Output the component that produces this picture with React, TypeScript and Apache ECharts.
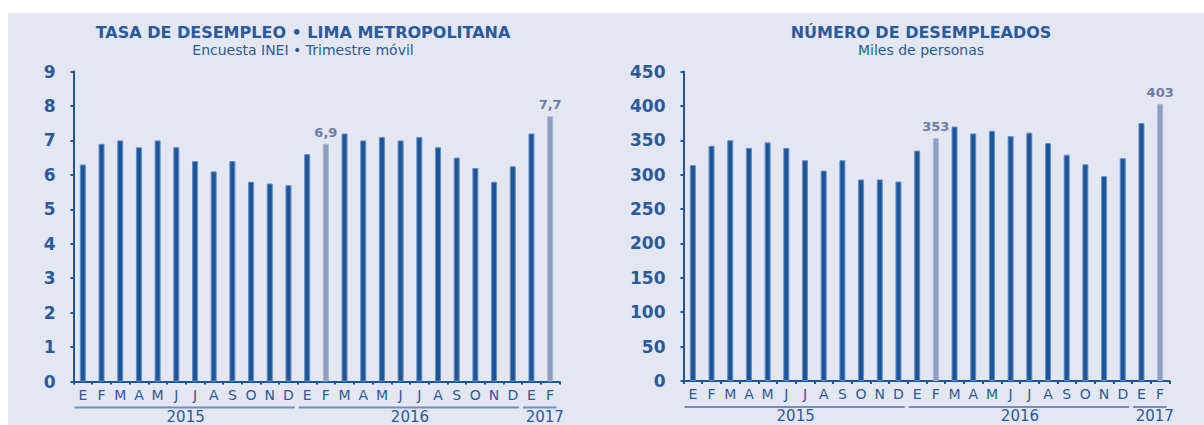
import React, { useEffect, useRef } from "react";
import * as echarts from "echarts";

const months = ["E","F","M","A","M","J","J","A","S","O","N","D","E","F","M","A","M","J","J","A","S","O","N","D","E","F"];
const years = [
  { label: "2015", start: 0, end: 11 },
  { label: "2016", start: 12, end: 23 },
  { label: "2017", start: 24, end: 25 },
];
const rate = [6.3, 6.9, 7.0, 6.8, 7.0, 6.8, 6.4, 6.1, 6.4, 5.8, 5.75, 5.7, 6.6, 6.9, 7.2, 7.0, 7.1, 7.0, 7.1, 6.8, 6.5, 6.2, 5.8, 6.25, 7.2, 7.7];
const unemployed = [314, 342, 350, 339, 347, 339, 321, 306, 321, 293, 293, 290, 335, 353, 370, 360, 364, 356, 361, 346, 329, 315, 298, 324, 375, 403];
const highlighted = [13, 25];
const rateTicks = { min: 0, max: 9, interval: 1 };
const unemployedTicks = { min: 0, max: 450, interval: 50 };
const titles = [
  { title: "TASA DE DESEMPLEO • LIMA METROPOLITANA", sub: "Encuesta INEI • Trimestre móvil" },
  { title: "NÚMERO DE DESEMPLEADOS", sub: "Miles de personas" },
];

const FONT = "DejaVu Sans";
const BLUE = "#2B5A9B";
const DARK = "#1F5597";
const LIGHT = "#8C9DC4";
const BG = "#E4E6F1";

function seriesData(vals: number[]) {
  return vals.map((v, i) =>
    highlighted.includes(i)
      ? { value: v, itemStyle: { color: LIGHT, borderColor: "#A9B8D6" }, label: { show: true } }
      : v
  );
}

export default function App() {
  const ref = useRef<HTMLDivElement>(null);
  useEffect(() => {
    if (!ref.current) return;
    const chart = echarts.init(ref.current, undefined, { renderer: "svg" });
    const grids = [
      { left: 73.5, top: 71.5, width: 486, height: 310 },
      { left: 683.5, top: 71.5, width: 486, height: 309.5 },
    ];
    const ticks = [rateTicks, unemployedTicks];
    const option: any = {
      animation: false,
      backgroundColor: BG,
      grid: grids,
      xAxis: grids.map((_, k) => ({
        type: "category",
        gridIndex: k,
        data: months,
        axisLine: { lineStyle: { color: DARK, width: 2 } },
        axisTick: { show: true, length: 3, lineStyle: { color: DARK, width: 2 } },
        axisLabel: { interval: 0, color: BLUE, fontFamily: FONT, fontSize: 14, margin: 6 },
        splitLine: { show: false },
      })),
      yAxis: grids.map((_, k) => ({
        type: "value",
        gridIndex: k,
        min: ticks[k].min,
        max: ticks[k].max,
        interval: ticks[k].interval,
        axisLine: { show: true, lineStyle: { color: DARK, width: 2 } },
        axisTick: { show: true, length: 3, lineStyle: { color: DARK, width: 2 } },
        axisLabel: { color: BLUE, fontFamily: FONT, fontSize: 17, fontWeight: "bold", margin: 18 },
        splitLine: { show: false },
      })),
      series: [
        {
          type: "bar",
          xAxisIndex: 0,
          yAxisIndex: 0,
          data: seriesData(rate),
          barWidth: 6,
          itemStyle: { color: DARK, borderColor: "#5F90CC", borderWidth: 1 },
          label: {
            show: false,
            position: "top",
            distance: 5,
            color: "#6C7DA3",
            fontFamily: FONT,
            fontSize: 13,
            fontWeight: "bold",
            formatter: (p: any) => Number(p.value).toFixed(1).replace(".", ","),
          },
        },
        {
          type: "bar",
          xAxisIndex: 1,
          yAxisIndex: 1,
          data: seriesData(unemployed),
          barWidth: 6,
          itemStyle: { color: DARK, borderColor: "#5F90CC", borderWidth: 1 },
          label: {
            show: false,
            position: "top",
            distance: 5,
            color: "#6C7DA3",
            fontFamily: FONT,
            fontSize: 13,
            fontWeight: "bold",
            formatter: (p: any) => String(p.value),
          },
        },
      ],
    };
    chart.setOption(option);

    const graphic: any[] = [
      { type: "rect", shape: { x: 0, y: 0, width: 1204, height: 13 }, style: { fill: "#ffffff" }, silent: true },
      { type: "rect", shape: { x: 0, y: 0, width: 8, height: 425 }, style: { fill: "#ffffff" }, silent: true },
    ];
    const titleX = [303, 921];
    titles.forEach((t, k) => {
      graphic.push({
        type: "text",
        x: titleX[k],
        y: 32,
        style: { text: t.title, fill: BLUE, font: `bold 16px "${FONT}"`, textAlign: "center", textVerticalAlign: "middle" },
      });
      graphic.push({
        type: "text",
        x: titleX[k],
        y: 50,
        style: { text: t.sub, fill: BLUE, font: `14px "${FONT}"`, textAlign: "center", textVerticalAlign: "middle" },
      });
    });
    [0, 1].forEach((k) => {
      const c0 = chart.convertToPixel({ xAxisIndex: k } as any, 0) as number;
      const c1 = chart.convertToPixel({ xAxisIndex: k } as any, 1) as number;
      const band = c1 - c0;
      const baseY = chart.convertToPixel({ yAxisIndex: k } as any, 0) as number;
      years.forEach((g) => {
        const xs = (chart.convertToPixel({ xAxisIndex: k } as any, g.start) as number) - band / 2;
        const xe = (chart.convertToPixel({ xAxisIndex: k } as any, g.end) as number) + band / 2;
        graphic.push({
          type: "line",
          shape: { x1: xs + 1, y1: baseY + 26, x2: xe - 3, y2: baseY + 26 },
          style: { stroke: "#6F8FC4", lineWidth: 2 },
        });
        graphic.push({
          type: "text",
          x: (xs + xe) / 2 + (g.end - g.start < 3 ? 4 : 0),
          y: baseY + 35,
          style: { text: g.label, fill: BLUE, font: `15px "${FONT}"`, textAlign: "center", textVerticalAlign: "middle" },
        });
      });
    });
    chart.setOption({ graphic });
    return () => chart.dispose();
  }, []);
  return (
    <div
      ref={ref}
      style={{ position: "fixed", left: 0, top: 0, width: 1204, height: 425, background: "#fff" }}
    />
  );
}
